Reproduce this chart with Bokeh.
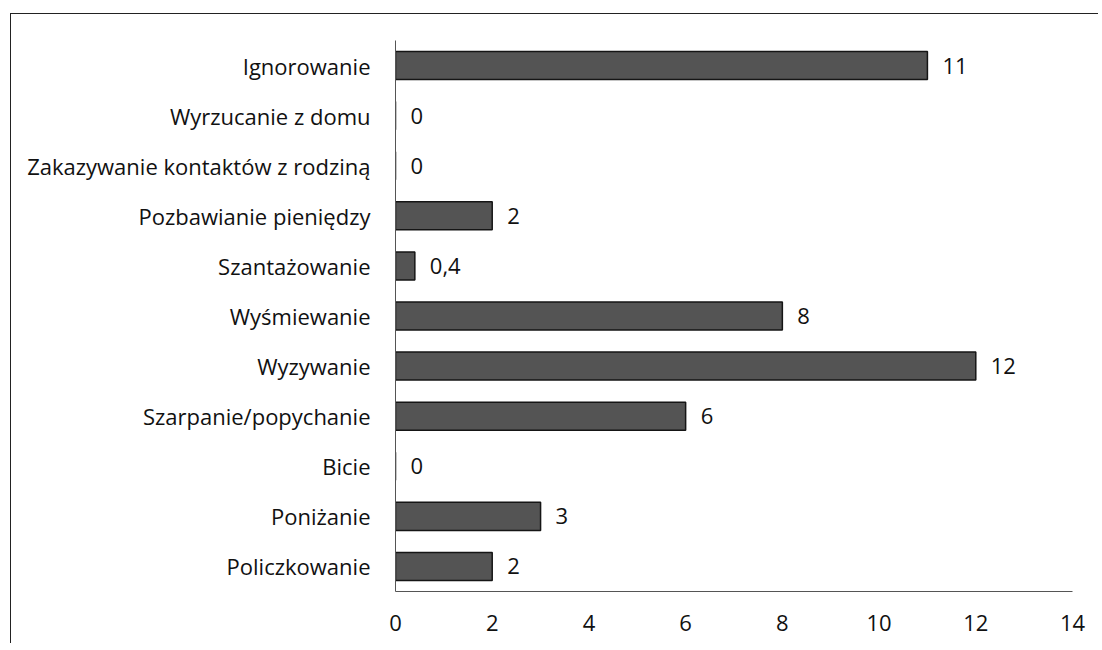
from bokeh.plotting import figure
from bokeh.models import ColumnDataSource, Range1d, FixedTicker, LabelSet
from bokeh.core.properties import value
from bokeh.embed import file_html
from bokeh.resources import INLINE

categories = ["Ignorowanie", "Wyrzucanie z domu", "Zakazywanie kontaktów z rodziną",
              "Pozbawianie pieniędzy", "Szantażowanie", "Wyśmiewanie", "Wyzywanie",
              "Szarpanie/popychanie", "Bicie", "Poniżanie", "Policzkowanie"]
values = [11, 0, 0, 2, 0.4, 8, 12, 6, 0, 3, 2]
value_labels = ["11", "0", "0", "2", "0,4", "8", "12", "6", "0", "3", "2"]
x_ticks = [0, 2, 4, 6, 8, 10, 12, 14]

FONT = "Open Sans"
FSIZE = "22px"

src = ColumnDataSource(dict(cat=categories, val=values, lab=value_labels))

p = figure(y_range=list(reversed(categories)), x_range=Range1d(0, 14),
           width=1088, height=630, output_backend="svg", toolbar_location=None,
           min_border_left=384, min_border_top=26, min_border_bottom=53,
           min_border_right=27)
p.margin = (13, 0, 0, 10)
p.styles = {"border-left": "1px solid #222", "border-top": "1px solid #222"}

p.hbar(y="cat", right="val", left=0, height=0.56, source=src,
       fill_color="#545454", line_color="#151515", line_width=1.5)

labels = LabelSet(x="val", y="cat", text="lab", source=src, x_offset=15,
                  text_align="left", text_baseline="middle",
                  text_font=value(FONT), text_font_size=value(FSIZE),
                  text_color="#111")
p.add_layout(labels)

p.xgrid.visible = False
p.ygrid.visible = False
p.outline_line_color = None

p.xaxis.ticker = FixedTicker(ticks=x_ticks)
p.xaxis.major_tick_line_color = None
p.xaxis.minor_tick_line_color = None
p.xaxis.axis_line_color = "#555"
p.xaxis.major_label_text_font = FONT
p.xaxis.major_label_text_font_size = FSIZE
p.xaxis.major_label_text_color = "#111"
p.xaxis.major_label_standoff = 17

p.yaxis.major_tick_line_color = None
p.yaxis.minor_tick_line_color = None
p.yaxis.axis_line_color = "#555"
p.yaxis.major_label_text_font = FONT
p.yaxis.major_label_text_font_size = FSIZE
p.yaxis.major_label_text_color = "#111"
p.yaxis.major_label_standoff = 19

open("out.html", "w").write(file_html(p, INLINE))
